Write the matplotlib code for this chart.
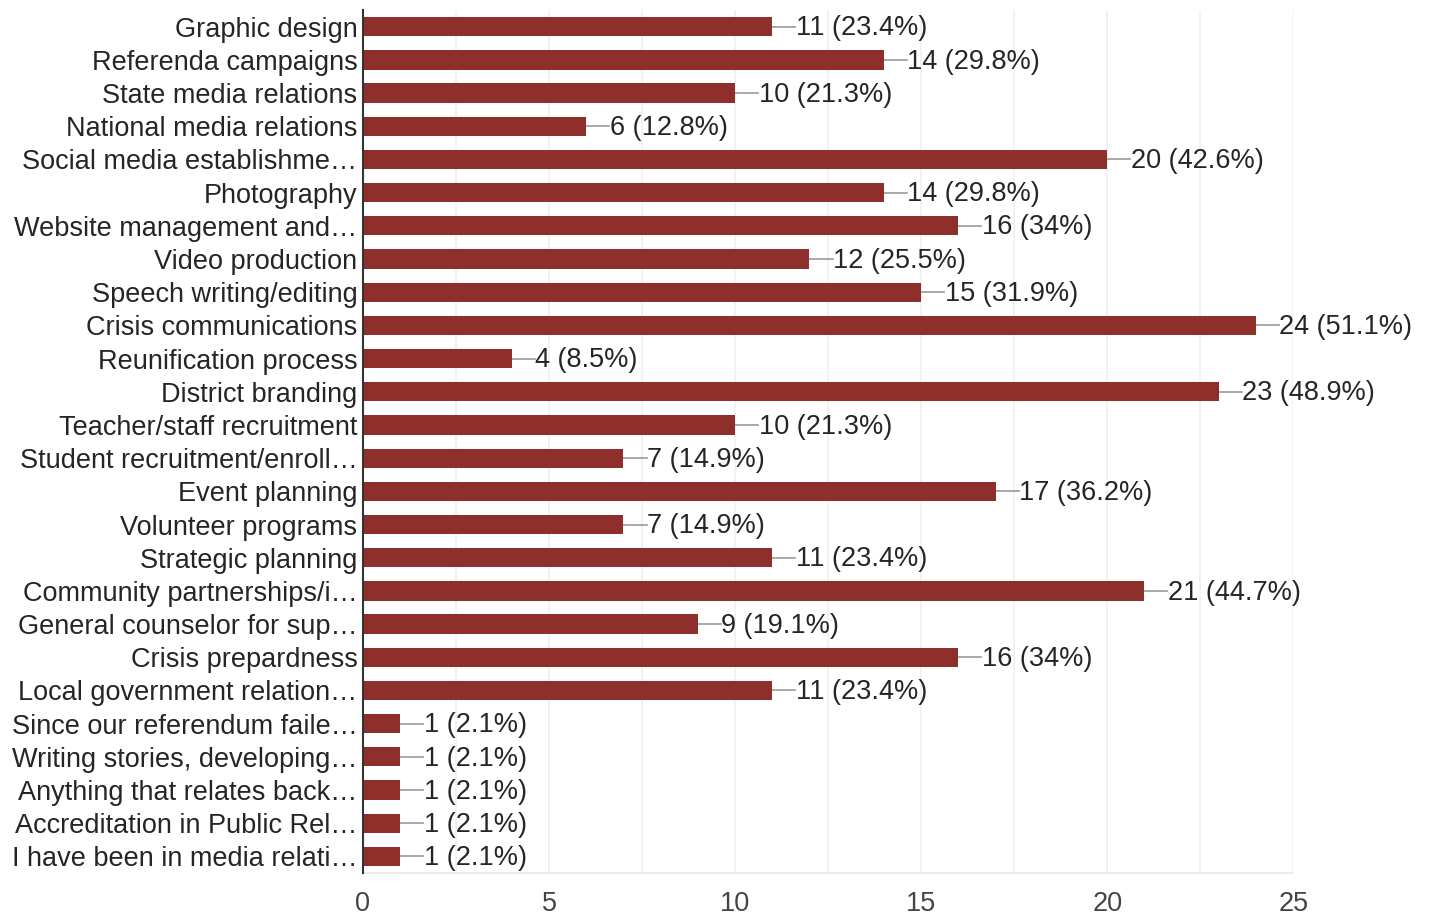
import numpy as np
import matplotlib.pyplot as plt

plt.rcParams['font.family'] = ['Liberation Sans', 'DejaVu Sans']

categories = ["Graphic design", "Referenda campaigns", "State media relations",
              "National media relations", "Social media establishme\u2026", "Photography",
              "Website management and\u2026", "Video production", "Speech writing/editing",
              "Crisis communications", "Reunification process", "District branding",
              "Teacher/staff recruitment", "Student recruitment/enroll\u2026", "Event planning",
              "Volunteer programs", "Strategic planning", "Community partnerships/i\u2026",
              "General counselor for sup\u2026", "Crisis prepardness", "Local government relation\u2026",
              "Since our referendum faile\u2026", "Writing stories, developing\u2026",
              "Anything that relates back\u2026", "Accreditation in Public Rel\u2026",
              "I have been in media relati\u2026"]
counts = [11, 14, 10, 6, 20, 14, 16, 12, 15, 24, 4, 23, 10, 7, 17, 7, 11, 21, 9, 16, 11,
          1, 1, 1, 1, 1]
percents = ["23.4%", "29.8%", "21.3%", "12.8%", "42.6%", "29.8%", "34%", "25.5%", "31.9%",
            "51.1%", "8.5%", "48.9%", "21.3%", "14.9%", "36.2%", "14.9%", "23.4%", "44.7%",
            "19.1%", "34%", "23.4%", "2.1%", "2.1%", "2.1%", "2.1%", "2.1%"]

bar_color = "#8e2f2c"
text_color = "#252525"
fs = 19.5

fig = plt.figure(figsize=(14.29, 9.18), dpi=100)
ax = fig.add_axes([0.254, 0.049, 0.651, 0.94])

y = np.arange(len(categories))
ax.barh(y, counts, height=0.58, color=bar_color, zorder=3)

for yi, c, p in zip(y, counts, percents):
    ax.plot([c, c + 0.62], [yi, yi], color="#999999", lw=1.2, zorder=2)
    ax.text(c + 0.63, yi + 0.05, f"{c} ({p})", va="center", ha="left",
            fontsize=fs, color=text_color)

ax.set_xlim(0, 25)
ax.set_ylim(len(categories) - 0.5, -0.5)
ax.set_yticks(y)
ax.set_yticklabels(categories, fontsize=fs, color=text_color)
ax.set_xticks([0, 5, 10, 15, 20, 25])
ax.set_xticklabels(["0", "5", "10", "15", "20", "25"], fontsize=fs, color="#444444")
ax.set_xticks(np.arange(0, 25.1, 2.5), minor=True)
ax.tick_params(axis="both", which="both", length=0)
ax.tick_params(axis="y", pad=4)
ax.tick_params(axis="x", pad=13)
ax.grid(axis="x", which="both", color="#f0f0f0", lw=1.2, zorder=0)

for s in ["top", "right"]:
    ax.spines[s].set_visible(False)
ax.spines["bottom"].set_color("#e8e8e8")
ax.spines["bottom"].set_linewidth(1.2)
ax.spines["left"].set_color("#333333")
ax.spines["left"].set_linewidth(1.5)
ax.spines["left"].set_zorder(4)

fig.savefig("out.png", dpi=100, facecolor="white")
